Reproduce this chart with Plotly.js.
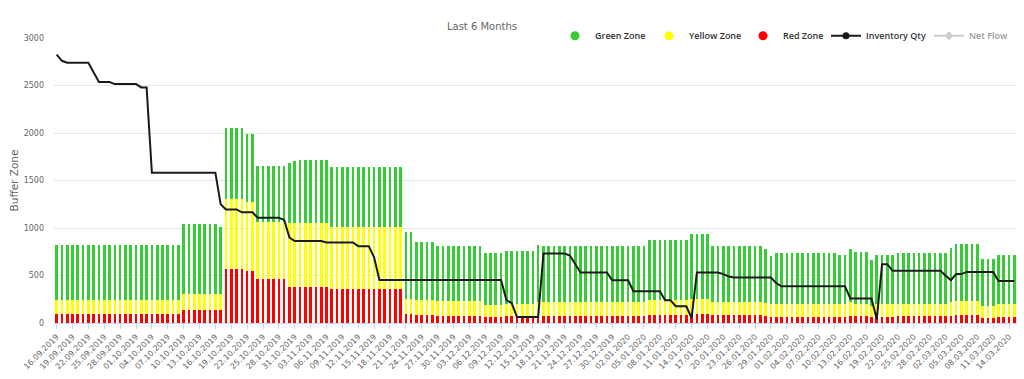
<!DOCTYPE html>
<html>
<head>
<meta charset="utf-8">
<script src="https://cdn.plot.ly/plotly-3.0.1.min.js"></script>
<style>html,body{margin:0;padding:0;background:#fff;}#chart{width:1024px;height:379px;}</style>
</head>
<body>
<div id="chart"></div>
<script>
// Daily categories 16.09.2019 - 15.03.2020
const dates = [
"16.09.2019","17.09.2019","18.09.2019","19.09.2019","20.09.2019","21.09.2019","22.09.2019","23.09.2019","24.09.2019","25.09.2019","26.09.2019","27.09.2019","28.09.2019","29.09.2019","30.09.2019",
"01.10.2019","02.10.2019","03.10.2019","04.10.2019","05.10.2019","06.10.2019","07.10.2019","08.10.2019","09.10.2019","10.10.2019","11.10.2019","12.10.2019","13.10.2019","14.10.2019","15.10.2019","16.10.2019","17.10.2019","18.10.2019","19.10.2019","20.10.2019","21.10.2019","22.10.2019","23.10.2019","24.10.2019","25.10.2019","26.10.2019","27.10.2019","28.10.2019","29.10.2019","30.10.2019","31.10.2019",
"01.11.2019","02.11.2019","03.11.2019","04.11.2019","05.11.2019","06.11.2019","07.11.2019","08.11.2019","09.11.2019","10.11.2019","11.11.2019","12.11.2019","13.11.2019","14.11.2019","15.11.2019","16.11.2019","17.11.2019","18.11.2019","19.11.2019","20.11.2019","21.11.2019","22.11.2019","23.11.2019","24.11.2019","25.11.2019","26.11.2019","27.11.2019","28.11.2019","29.11.2019","30.11.2019",
"01.12.2019","02.12.2019","03.12.2019","04.12.2019","05.12.2019","06.12.2019","07.12.2019","08.12.2019","09.12.2019","10.12.2019","11.12.2019","12.12.2019","13.12.2019","14.12.2019","15.12.2019","16.12.2019","17.12.2019","18.12.2019","19.12.2019","20.12.2019","21.12.2019","22.12.2019","23.12.2019","24.12.2019","25.12.2019","26.12.2019","27.12.2019","28.12.2019","29.12.2019","30.12.2019","31.12.2019",
"01.01.2020","02.01.2020","03.01.2020","04.01.2020","05.01.2020","06.01.2020","07.01.2020","08.01.2020","09.01.2020","10.01.2020","11.01.2020","12.01.2020","13.01.2020","14.01.2020","15.01.2020","16.01.2020","17.01.2020","18.01.2020","19.01.2020","20.01.2020","21.01.2020","22.01.2020","23.01.2020","24.01.2020","25.01.2020","26.01.2020","27.01.2020","28.01.2020","29.01.2020","30.01.2020","31.01.2020",
"01.02.2020","02.02.2020","03.02.2020","04.02.2020","05.02.2020","06.02.2020","07.02.2020","08.02.2020","09.02.2020","10.02.2020","11.02.2020","12.02.2020","13.02.2020","14.02.2020","15.02.2020","16.02.2020","17.02.2020","18.02.2020","19.02.2020","20.02.2020","21.02.2020","22.02.2020","23.02.2020","24.02.2020","25.02.2020","26.02.2020","27.02.2020","28.02.2020","29.02.2020",
"01.03.2020","02.03.2020","03.03.2020","04.03.2020","05.03.2020","06.03.2020","07.03.2020","08.03.2020","09.03.2020","10.03.2020","11.03.2020","12.03.2020","13.03.2020","14.03.2020","15.03.2020"
];

const tickLabels = [
"16.09.2019","19.09.2019","22.09.2019","25.09.2019","28.09.2019","01.10.2019","04.10.2019","07.10.2019","10.10.2019","13.10.2019","16.10.2019","19.10.2019","22.10.2019","25.10.2019","28.10.2019","31.10.2019",
"03.11.2019","06.11.2019","09.11.2019","12.11.2019","15.11.2019","18.11.2019","21.11.2019","24.11.2019","27.11.2019","30.11.2019","03.12.2019","06.12.2019","09.12.2019","12.12.2019","15.12.2019","18.12.2019",
"21.12.2019","24.12.2019","27.12.2019","30.12.2019","02.01.2020","05.01.2020","08.01.2020","11.01.2020","14.01.2020","17.01.2020","20.01.2020","23.01.2020","26.01.2020","29.01.2020","01.02.2020","04.02.2020",
"07.02.2020","10.02.2020","13.02.2020","16.02.2020","19.02.2020","22.02.2020","25.02.2020","28.02.2020","02.03.2020","05.03.2020","08.03.2020","11.03.2020","14.03.2020"
];

// Zone sizes (stacked) per day
const redZone = [
100,100,100,100,100,100,100,100,100,100,100,100,100,100,100,100,100,100,100,100,100,100,100,100,
132,132,132,132,132,132,132,132,
565,565,565,565,550,550,
458,458,458,458,458,458,
380,380,380,380,380,380,380,380,
363,363,363,363,363,363,363,363,363,363,363,363,363,363,
90,90,80,80,80,80,
75,75,75,75,75,75,75,75,75,
63,63,63,63,
70,70,70,70,70,70,
78,
78,78,78,78,78,78,78,78,78,78,78,78,78,78,78,78,78,78,78,78,
80,80,80,80,80,80,80,80,
92,92,92,92,
80,80,80,80,80,80,80,80,80,80,
75,63,
65,65,65,65,65,65,65,65,65,65,65,65,
65,65,
75,70,70,70,60,
68,68,68,68,
70,70,70,70,70,70,70,70,70,70,
75,81,81,81,81,81,
57,57,57,
68,68,68,68
];

const yellowZone = [
140,140,140,140,140,140,140,140,140,140,140,140,140,140,140,140,140,140,140,140,140,140,140,140,
178,178,178,178,178,178,178,178,
745,745,745,745,725,725,
607,607,607,607,607,607,
670,670,670,670,670,670,670,670,
650,650,650,650,650,650,650,650,650,650,650,650,650,650,
167,167,160,160,160,160,
154,154,154,154,154,154,154,154,154,
127,127,127,127,
135,135,135,135,135,135,
144,
144,144,144,144,144,144,144,144,144,144,144,144,144,144,144,144,144,144,144,144,
160,160,160,160,160,160,160,160,
165,165,165,165,
142,142,142,142,142,142,142,142,142,142,
140,132,
132,132,132,132,132,132,132,132,132,132,132,132,
130,130,
147,135,135,135,116,
129,129,129,129,
130,130,130,130,130,130,130,130,130,130,
147,148,148,148,148,148,
123,123,123,
132,132,132,132
];

const greenZone = [
580,580,580,580,580,580,580,580,580,580,580,580,580,580,580,580,580,580,580,580,580,580,580,580,
730,730,730,730,730,730,730,705,
740,740,740,740,715,715,
590,590,590,590,590,590,
630,655,667,667,667,667,667,667,
627,627,627,627,627,627,627,627,627,627,627,627,627,627,
701,701,615,615,615,615,
580,580,580,580,580,580,580,580,580,
542,542,542,542,
555,555,555,555,555,555,
598,
587,587,587,587,587,587,587,587,587,587,587,587,587,587,587,587,587,587,587,587,
632,632,632,632,632,632,632,632,
679,679,679,679,
587,587,587,587,587,587,587,587,587,587,
559,509,
542,542,542,542,542,542,542,542,542,542,542,542,
526,526,
552,545,545,545,485,
518,518,518,518,
539,539,539,539,539,539,539,539,539,539,
563,601,601,601,601,601,
492,492,492,
521,521,521,521
];

const inventoryQty = [
2825,2760,2740,2740,2740,2740,2740,2637,2536,2536,2536,2515,2515,2515,2515,2515,2480,2480,
1582,1582,1582,1582,1582,1582,1582,1582,1582,1582,1582,1582,1582,
1249,1196,1196,1196,1165,1165,1165,1108,1108,1108,1108,1108,1085,900,
862,862,862,862,862,862,848,848,848,848,848,848,809,809,809,690,
452,452,452,452,452,452,452,452,452,452,452,452,452,452,452,452,452,452,452,452,452,452,452,452,
240,210,63,63,63,63,63,
732,732,732,732,732,710,620,
532,532,532,532,532,532,
450,450,450,450,
334,334,334,334,334,334,
240,240,176,176,176,53,
532,532,532,532,532,515,490,
479,479,479,479,479,479,479,479,420,
387,387,387,387,387,387,387,387,387,387,387,387,387,
257,257,257,257,257,39,619,619,
549,549,549,549,549,549,549,549,549,549,500,450,515,515,
538,538,538,538,538,538,
443,443,443,443
];

const netFlow = dates.map(() => null); // hidden series (legend only)

const colors = { green: '#36cc36', yellow: '#ffff00', red: '#ff0000', inv: '#1a1a1a', net: '#9a9a9a' };

const traces = [
  { type: 'bar', name: 'Red Zone', x: dates, y: redZone, marker: { color: colors.red }, showlegend: false },
  { type: 'bar', name: 'Yellow Zone', x: dates, y: yellowZone, marker: { color: colors.yellow }, showlegend: false },
  { type: 'bar', name: 'Green Zone', x: dates, y: greenZone, marker: { color: colors.green }, showlegend: false },
  { type: 'scatter', mode: 'lines', name: 'Inventory Qty', x: dates, y: inventoryQty, line: { color: colors.inv, width: 2 }, showlegend: false },
  // legend entries
  { type: 'scatter', mode: 'markers', name: 'Green Zone', x: [null], y: [null], marker: { color: colors.green, size: 9, symbol: 'circle' } },
  { type: 'scatter', mode: 'markers', name: 'Yellow Zone', x: [null], y: [null], marker: { color: colors.yellow, size: 9, symbol: 'circle' } },
  { type: 'scatter', mode: 'markers', name: 'Red Zone', x: [null], y: [null], marker: { color: colors.red, size: 9, symbol: 'circle' } },
  { type: 'scatter', mode: 'lines+markers', name: 'Inventory Qty', legend: 'legend3', x: [null], y: [null], line: { color: colors.inv, width: 2 }, marker: { color: colors.inv, size: 7, symbol: 'circle' } },
  { type: 'scatter', mode: 'lines+markers', name: 'Net Flow', legend: 'legend2', x: dates, y: netFlow, visible: 'legendonly', line: { color: colors.net, width: 2 }, marker: { color: colors.net, size: 7, symbol: 'diamond' } }
];

const legendFont = { family: 'Open Sans, sans-serif', size: 9, color: '#333333', weight: 600 };

const layout = {
  width: 1024, height: 379,
  margin: { l: 54, r: 7, t: 38, b: 56, pad: 0, autoexpand: false },
  paper_bgcolor: '#ffffff', plot_bgcolor: '#ffffff',
  font: { family: 'DejaVu Sans, sans-serif', color: '#666666', size: 9 },
  title: { text: 'Last 6 Months', font: { size: 10, color: '#666666' }, x: 482 / 1024, xref: 'container', xanchor: 'center', y: 1 - 26 / 379, yref: 'container', yanchor: 'middle' },
  barmode: 'stack',
  bargap: 0.5,
  showlegend: true,
  legend: { orientation: 'h', xref: 'container', x: 555 / 1024, xanchor: 'left', y: 1.008, yanchor: 'middle', entrywidth: 49, entrywidthmode: 'pixels', font: legendFont, bgcolor: 'rgba(0,0,0,0)', traceorder: 'normal' },
  legend3: { orientation: 'h', xref: 'container', x: 826 / 1024, xanchor: 'left', y: 1.008, yanchor: 'middle', font: legendFont, bgcolor: 'rgba(0,0,0,0)' },
  legend2: { orientation: 'h', xref: 'container', x: 929 / 1024, xanchor: 'left', y: 1.008, yanchor: 'middle', font: legendFont, bgcolor: 'rgba(0,0,0,0)' },
  xaxis: {
    type: 'category', range: [-0.5, 181.5], automargin: false,
    tickmode: 'array', tickvals: tickLabels, ticktext: tickLabels,
    tickangle: -45, tickfont: { size: 8, color: '#666666' },
    showline: true, linecolor: '#ccd6eb', linewidth: 1,
    ticks: 'outside', ticklen: 5, tickcolor: '#ccd6eb',
    showgrid: false, zeroline: false
  },
  yaxis: {
    range: [0, 3000], tick0: 0, dtick: 500, automargin: false,
    tickfont: { size: 8, color: '#666666' }, ticks: '', ticklabelstandoff: 9,
    gridcolor: '#e6e6e6', gridwidth: 1, zeroline: false, showline: false,
    title: { text: 'Buffer Zone', font: { size: 10.5, color: '#666666' }, standoff: 2 }
  }
};

Plotly.newPlot('chart', traces, layout, { displayModeBar: false, staticPlot: true });
</script>
</body>
</html>
